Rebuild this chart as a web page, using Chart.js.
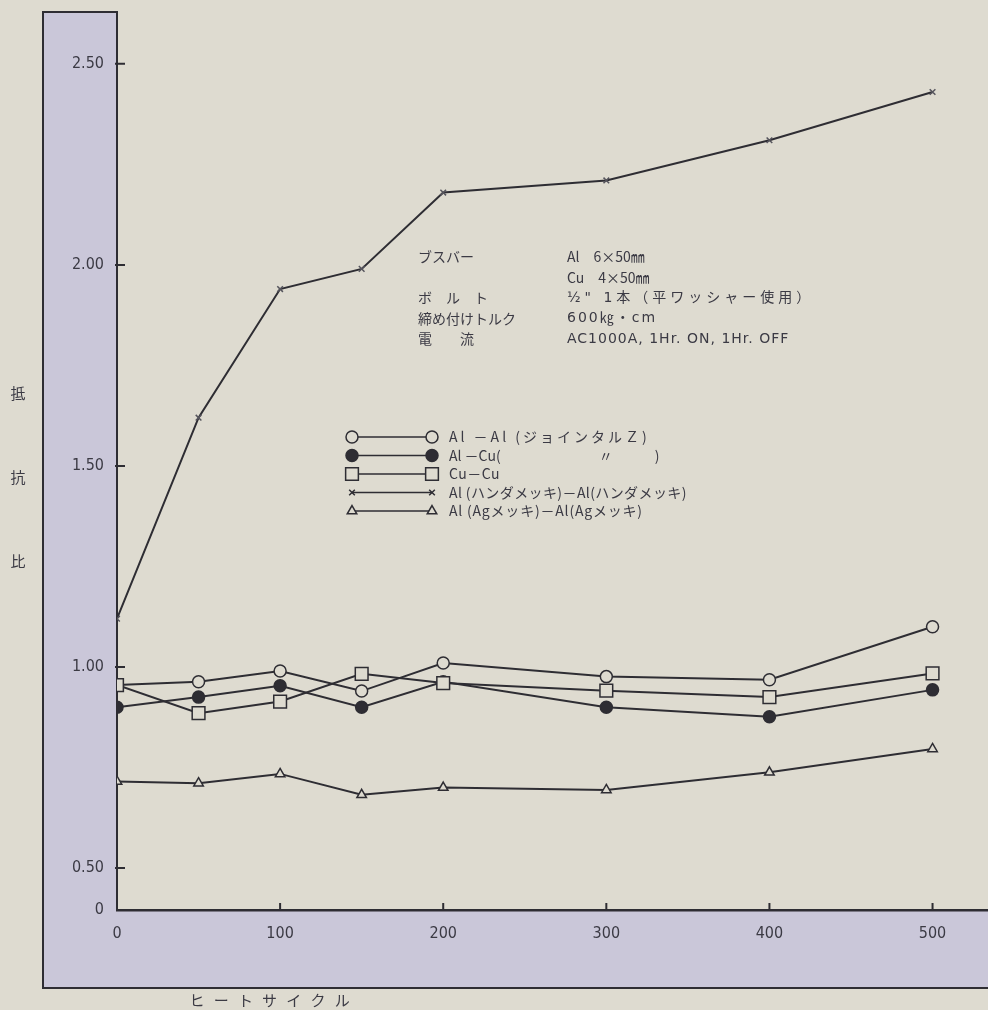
<!DOCTYPE html>
<html>
<head>
<meta charset="utf-8">
<script src="https://cdn.jsdelivr.net/npm/chart.js@4.4.1/dist/chart.umd.min.js"></script>
<style>
  body { margin: 0; background: #dedbd0; }
  #wrap { width: 988px; height: 1010px; }
</style>
</head>
<body>
<div id="wrap"><canvas id="chart" width="988" height="1010"></canvas></div>
<script>
// heat cycles on the x axis
const cycles = [0, 50, 100, 150, 200, 300, 400, 500];

// resistance ratio
const alAl = [0.955, 0.963, 0.99, 0.94, 1.01, 0.976, 0.968, 1.10];
const alCu = [0.90, 0.925, 0.953, 0.90, 0.963, 0.90, 0.876, 0.943];
const cuCu = [0.955, 0.885, 0.914, 0.983, 0.96, 0.941, 0.925, 0.984];
const solder = [1.12, 1.62, 1.94, 1.99, 2.18, 2.21, 2.31, 2.43];
const silver = [0.715, 0.711, 0.734, 0.682, 0.70, 0.694, 0.738, 0.796];

const seriesNames = [
    'Al －Al (ジョインタルＺ)',
    'Al －Cu(　　　　　　　〃　　　)',
    'Cu－Cu',
    'Al (ハンダメッキ)－Al(ハンダメッキ)',
    'Al (Agメッキ)－Al(Agメッキ)'
];

// the axis is broken below 0.50: the bottom tick stands for 0
const yTickValues = [0.3955, 0.5, 1.0, 1.5, 2.0, 2.5];
const yTickLabels = ['0', '0.50', '1.00', '1.50', '2.00', '2.50'];
const xTickValues = [0, 100, 200, 300, 400, 500];

const specRows = [
    ['ブスバー', 'Al　6×50㎜'],
    ['', 'Cu　4×50㎜'],
    ['ボ　ル　ト', '½" 1本（平ワッシャー使用）'],
    ['締め付けトルク', '600㎏・cm'],
    ['電　　流', 'AC1000A, 1Hr. ON, 1Hr. OFF']
];
const specSpacing = [0, 0, 4, 2, 1];
const legendSpacing = [3, 0, 0.5, 0.4, 0.8];

const INK = '#2e2d33';
const PAPER = '#dedbd0';
const PANEL = '#cac7d9';
const TEXT = '#3b3a44';
const NUM_FONT = '"Liberation Sans Narrow", "DejaVu Sans Condensed", "Noto Sans", sans-serif';
const JP_FONT = '"Noto Sans CJK JP", "Noto Sans", sans-serif';
const WIDE_FONT = '"DejaVu Sans", "Noto Sans CJK JP", sans-serif';

const toPoints = arr => cycles.map((c, i) => ({ x: c, y: arr[i] }));

const styles = [
    { pointStyle: 'circle', radius: 6, fill: PAPER, order: 2 },
    { pointStyle: 'circle', radius: 6, fill: INK, order: 3 },
    { pointStyle: 'rect', radius: 9, fill: PAPER, order: 1 },
    { pointStyle: 'crossRot', radius: 4, fill: INK, order: 4 },
    { pointStyle: 'triangle', radius: 5.5, fill: PAPER, order: 5 }
];
const allSeries = [alAl, alCu, cuCu, solder, silver];

const datasets = allSeries.map((arr, i) => ({
    label: seriesNames[i],
    data: toPoints(arr),
    borderColor: INK,
    borderWidth: 2,
    pointStyle: styles[i].pointStyle,
    pointRadius: styles[i].radius,
    pointBackgroundColor: styles[i].fill,
    pointBorderColor: i === 3 ? '#55545c' : INK,
    pointBorderWidth: 1.5,
    order: styles[i].order,
    tension: 0
}));

const framePlugin = {
    id: 'frame',
    beforeDraw(chart) {
        const ctx = chart.ctx;
        const a = chart.chartArea;
        ctx.save();
        ctx.fillStyle = PAPER;
        ctx.fillRect(0, 0, chart.width, chart.height);
        ctx.fillStyle = PANEL;
        ctx.fillRect(43, 12, a.left - 43, 976);
        ctx.fillRect(43, a.bottom, chart.width - 43, 988 - a.bottom);
        ctx.strokeStyle = INK;
        ctx.lineWidth = 2;
        ctx.beginPath();
        ctx.moveTo(a.left, 12);
        ctx.lineTo(43, 12);
        ctx.lineTo(43, 988);
        ctx.lineTo(chart.width, 988);
        ctx.stroke();
        ctx.restore();
    },
    afterDraw(chart) {
        const ctx = chart.ctx;
        const a = chart.chartArea;
        const xs = chart.scales.x, ys = chart.scales.y;
        ctx.save();
        // inward tick marks
        ctx.strokeStyle = INK;
        ctx.lineWidth = 2;
        ctx.beginPath();
        yTickValues.slice(1).forEach(v => {
            const py = ys.getPixelForValue(v);
            ctx.moveTo(a.left - 2, py);
            ctx.lineTo(a.left + 8, py);
        });
        xTickValues.slice(1).forEach(v => {
            const px = xs.getPixelForValue(v);
            ctx.moveTo(px, a.bottom);
            ctx.lineTo(px, a.bottom - 7);
        });
        ctx.stroke();

        // axis titles
        ctx.fillStyle = TEXT;
        ctx.font = '15px ' + JP_FONT;
        ctx.textAlign = 'center';
        ctx.textBaseline = 'middle';
        ['抵', '抗', '比'].forEach((ch, i) => ctx.fillText(ch, 18, 393 + i * 84));
        'ヒートサイクル'.split('').forEach((ch, i) => ctx.fillText(ch, 197 + i * 24.2, 1000));

        // spec block
        ctx.textAlign = 'left';
        specRows.forEach((row, i) => {
            const py = 257 + i * 20.5;
            ctx.letterSpacing = '0px';
            ctx.font = '14px ' + JP_FONT;
            ctx.fillText(row[0], 418, py);
            ctx.letterSpacing = specSpacing[i] + 'px';
            ctx.font = i < 2 ? '14px ' + JP_FONT : '14px ' + WIDE_FONT;
            ctx.fillText(row[1], 567, py);
        });

        // legend: marker, line, marker, name
        chart.data.datasets.forEach((ds, i) => {
            const py = 437 + i * 18.5;
            const x1 = 352, x2 = 432;
            ctx.letterSpacing = '0px';
            ctx.strokeStyle = INK;
            ctx.lineWidth = 1.5;
            ctx.beginPath();
            ctx.moveTo(x1, py);
            ctx.lineTo(x2, py);
            ctx.stroke();
            [x1, x2].forEach(px => {
                ctx.fillStyle = ds.pointBackgroundColor;
                ctx.strokeStyle = INK;
                ctx.lineWidth = 1.5;
                Chart.helpers.drawPoint(ctx, {
                    pointStyle: ds.pointStyle,
                    radius: ds.pointRadius,
                    borderWidth: 1.5,
                    rotation: 0
                }, px, py);
            });
            ctx.fillStyle = TEXT;
            ctx.font = '14px ' + JP_FONT;
            ctx.letterSpacing = legendSpacing[i] + 'px';
            ctx.fillText(ds.label, 449, py);
        });
        ctx.restore();
    }
};

new Chart(document.getElementById('chart'), {
    type: 'line',
    data: { datasets },
    options: {
        responsive: false,
        animation: false,
        layout: { autoPadding: false, padding: { top: 12, right: 0, left: 0, bottom: 0 } },
        plugins: { legend: { display: false }, tooltip: { enabled: false } },
        scales: {
            x: {
                type: 'linear',
                min: 0,
                max: 534,
                afterBuildTicks: s => { s.ticks = xTickValues.map(v => ({ value: v })); },
                afterFit: s => { s.height = 100; s.paddingLeft = 0; s.paddingRight = 0; },
                grid: { display: false },
                border: { display: true, color: INK, width: 2.5 },
                ticks: {
                    padding: 6,
                    color: TEXT,
                    font: { family: NUM_FONT, size: 16 },
                    maxRotation: 0,
                    callback: v => String(v)
                }
            },
            y: {
                type: 'linear',
                min: yTickValues[0],
                max: 2.629,
                afterBuildTicks: s => { s.ticks = yTickValues.map(v => ({ value: v })); },
                afterFit: s => { s.width = 117; s.paddingTop = 0; s.paddingBottom = 0; },
                grid: { display: false },
                border: { display: true, color: INK, width: 2 },
                ticks: {
                    padding: 5,
                    color: TEXT,
                    font: { family: NUM_FONT, size: 16 },
                    callback: (v, i) => yTickLabels[i]
                }
            }
        }
    },
    plugins: [framePlugin]
});
</script>
</body>
</html>
